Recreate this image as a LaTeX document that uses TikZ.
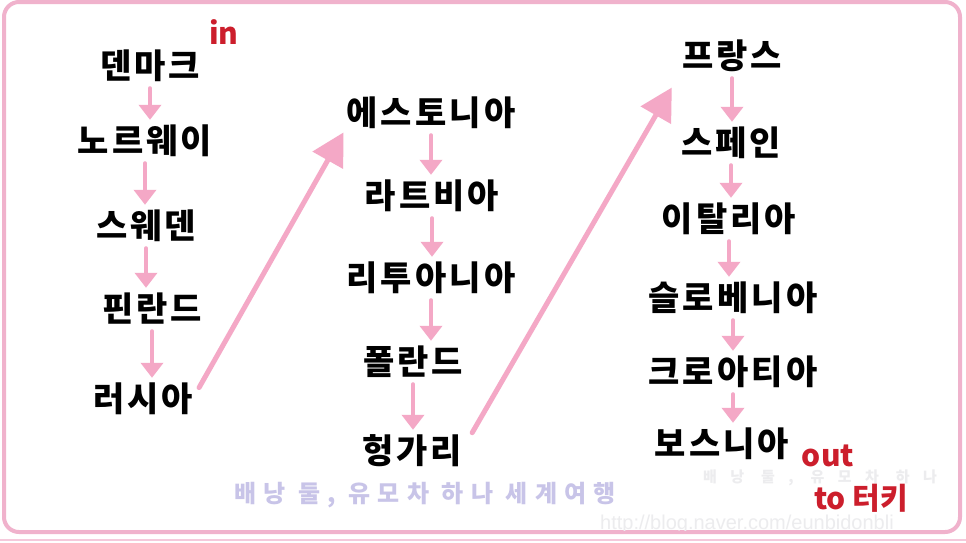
\documentclass[tikz,border=0pt]{standalone}
\usepackage{fontspec}
\usetikzlibrary{arrows.meta}
\newfontfamily\kr{Noto Sans CJK KR}
\newfontfamily\webfont{Liberation Sans}
\definecolor{arrowpink}{RGB}{244,168,198}
\definecolor{framepink}{RGB}{240,178,204}
\definecolor{markred}{RGB}{204,30,44}
\definecolor{stamplav}{RGB}{200,196,232}
\definecolor{stampgray}{RGB}{236,236,238}

\begin{document}
\begin{tikzpicture}[line cap=round,line join=round,x=1pt,y=-1pt,
  country/.style={font=\kr\bfseries\fontsize{34}{34}\selectfont\addfontfeature{LetterSpace=9},inner sep=0pt,text height=28pt,text depth=2pt},
  hop/.style={arrowpink,line width=4pt,-{Triangle[width=22pt,length=15pt]},shorten <=8pt,shorten >=5pt},
  jump/.style={arrowpink,line width=5pt,-{Triangle[width=34pt,length=32pt]}},
  note/.style={markred,font=\kr\bfseries\fontsize{30}{30}\selectfont,inner sep=0pt,text height=22pt,text depth=0pt},
  stamp/.style={font=\kr\bfseries\fontsize{24}{24}\selectfont\addfontfeature{LetterSpace=30},inner sep=0pt}]
\useasboundingbox (0,0) rectangle (966,542);
\fill[white] (0,0) rectangle (966,542);
\draw[framepink,line width=4pt,rounded corners=15pt] (4,2) rectangle (960,532);
\draw[framepink!70,line width=2pt] (0,540) -- (966,540);

\begin{scope}
\clip (6,4) rectangle (958,530);
\node[stampgray,font=\kr\bfseries\fontsize{15}{15}\selectfont\addfontfeature{LetterSpace=90},inner sep=0pt,text height=12pt,text depth=0pt] (stampb) at (820,476) {배낭 둘, 유모차 하나};
\node[stampgray,font=\webfont\fontsize{20}{20}\selectfont,anchor=west,inner sep=0pt,text height=14pt,text depth=0pt] (url) at (600,522) {http://blog.naver.com/eunbidonbli};
\end{scope}
\node[stamp,stamplav] (stampa) at (425,495) {배낭 둘, 유모차 하나 세계여행};

\node[country] (denmark) at (150,65) {덴마크};
\node[country] (norway) at (145,140) {노르웨이};
\node[country] (sweden) at (146,225) {스웨덴};
\node[country] (finland) at (152,308) {핀란드};
\node[country] (russia) at (143,398) {러시아};

\node[country] (estonia) at (431,112) {에스토니아};
\node[country] (latvia) at (432,195) {라트비아};
\node[country] (lithuania) at (431,277) {리투아니아};
\node[country] (poland) at (413,361) {폴란드};
\node[country] (hungary) at (412,450) {헝가리};

\node[country] (france) at (732,55) {프랑스};
\node[country] (spain) at (731,142) {스페인};
\node[country] (italy) at (729,218) {이탈리아};
\node[country] (slovenia) at (733,297) {슬로베니아};
\node[country] (croatia) at (733,371) {크로아티아};
\node[country] (bosnia) at (722,443) {보스니아};

\node[note] (in) at (224,33) {in};
\node[note] (out) at (828,455) {out};
\node[note] (turkey) at (861,498) {to 터키};

\draw[hop] (denmark.south) -- (denmark.south |- norway.north);
\draw[hop] (norway.south) -- (norway.south |- sweden.north);
\draw[hop] (sweden.south) -- (sweden.south |- finland.north);
\draw[hop] (finland.south) -- (finland.south |- russia.north);
\draw[hop] (estonia.south) -- (estonia.south |- latvia.north);
\draw[hop] (latvia.south) -- (latvia.south |- lithuania.north);
\draw[hop] (lithuania.south) -- (lithuania.south |- poland.north);
\draw[hop] (poland.south) -- (poland.south |- hungary.north);
\draw[hop] (france.south) -- (france.south |- spain.north);
\draw[hop] (spain.south) -- (spain.south |- italy.north);
\draw[hop] (italy.south) -- (italy.south |- slovenia.north);
\draw[hop] (slovenia.south) -- (slovenia.south |- croatia.north);
\draw[hop] (croatia.south) -- (croatia.south |- bosnia.north);

\draw[jump,shorten <=12pt,shorten >=6pt] (russia.east) -- (estonia.south west);
\draw[jump,shorten <=20pt,shorten >=20pt] (hungary.east) -- (france.south west);
\end{tikzpicture}
\end{document}
